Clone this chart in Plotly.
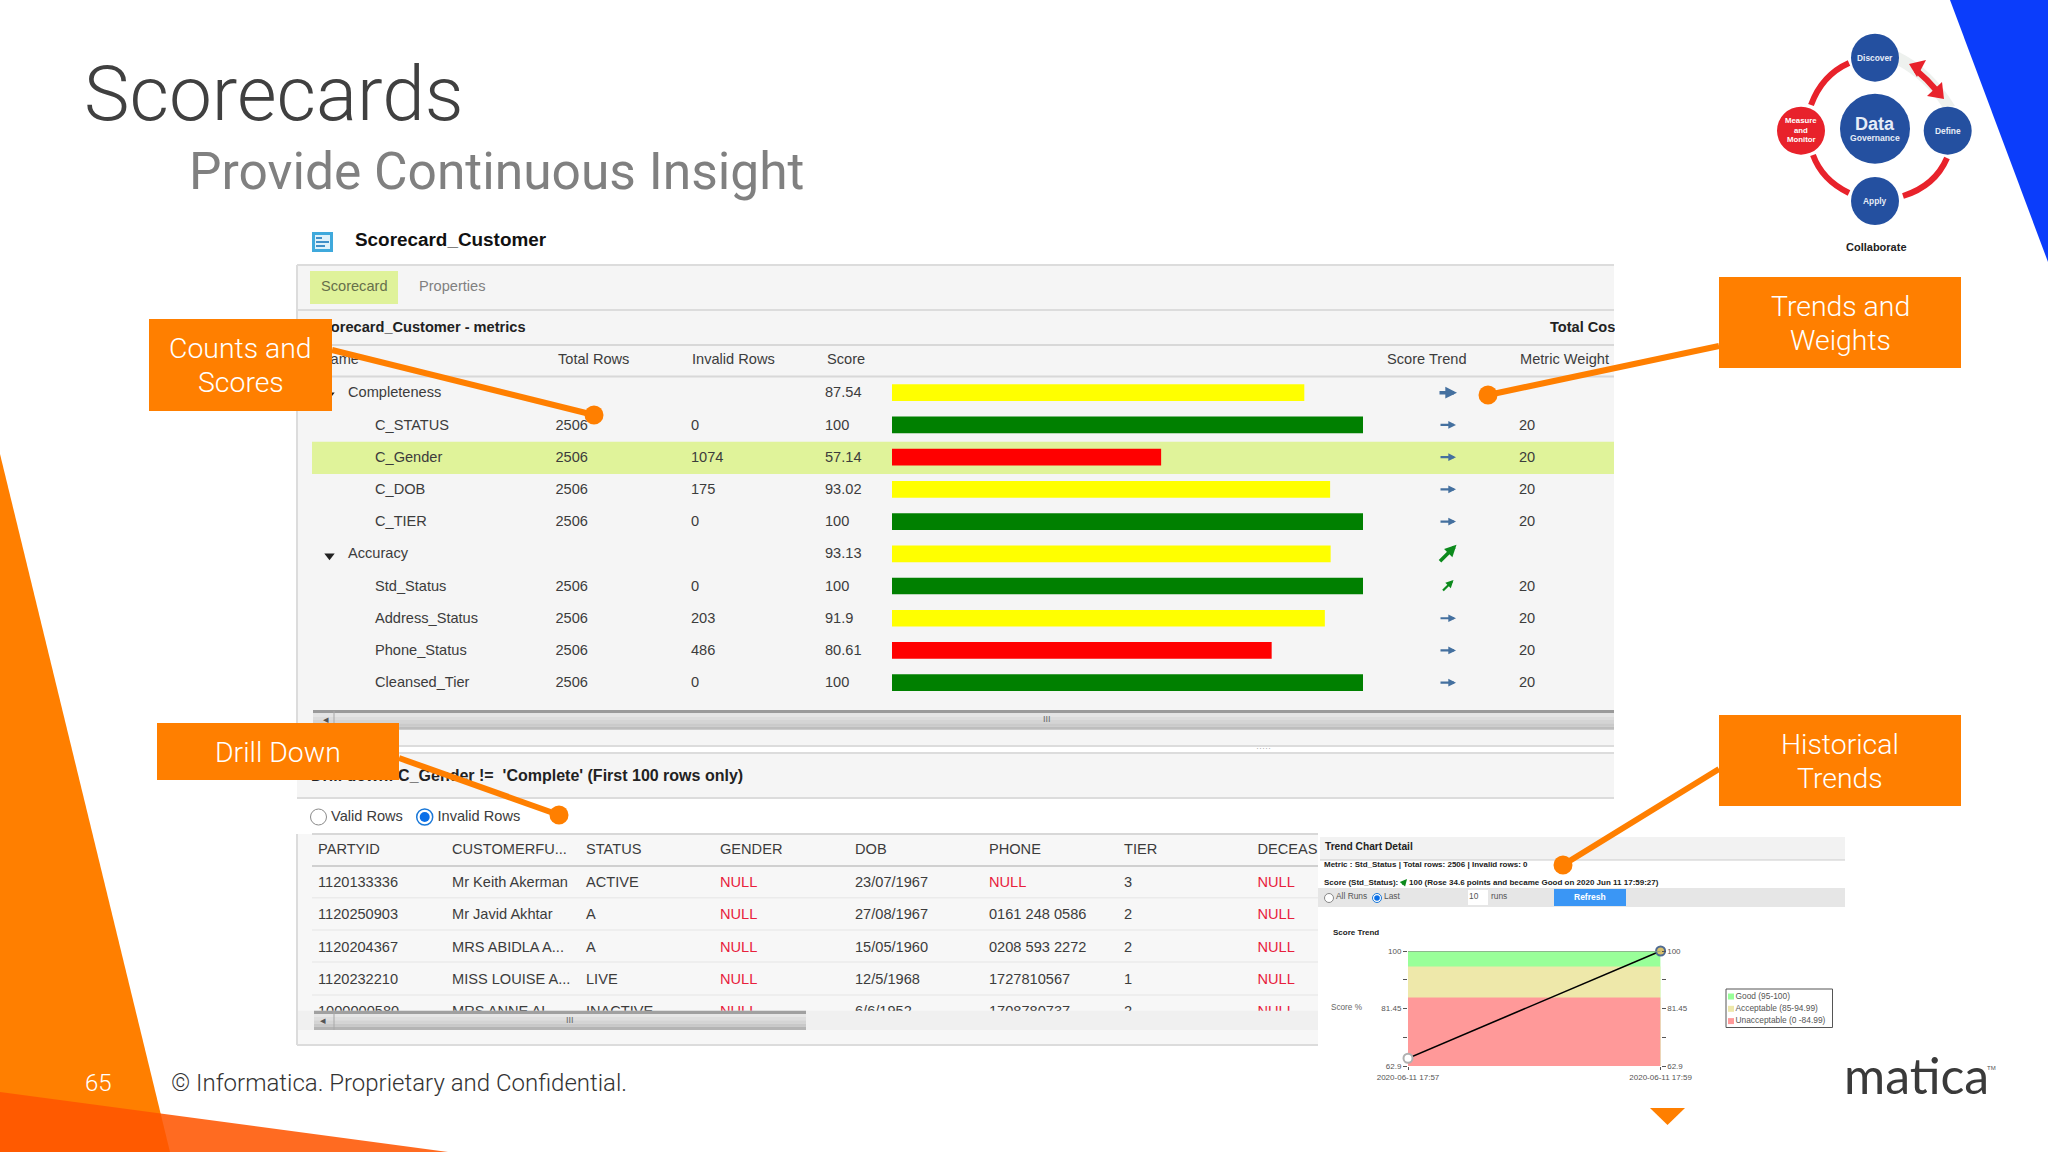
import plotly.graph_objects as go

# ---------- data ----------
metric_names = ["Completeness", "C_STATUS", "C_Gender", "C_DOB", "C_TIER", "Accuracy",
                "Std_Status", "Address_Status", "Phone_Status", "Cleansed_Tier"]
is_group = [True, False, False, False, False, True, False, False, False, False]
total_rows = ["", "2506", "2506", "2506", "2506", "", "2506", "2506", "2506", "2506"]
invalid_rows = ["", "0", "1074", "175", "0", "", "0", "203", "486", "0"]
scores = [87.54, 100, 57.14, 93.02, 100, 93.13, 100, 91.9, 80.61, 100]
score_labels = ["87.54", "100", "57.14", "93.02", "100", "93.13", "100", "91.9", "80.61", "100"]
bar_colors = ["#ffff00", "#008000", "#ff0000", "#ffff00", "#008000", "#ffff00",
              "#008000", "#ffff00", "#ff0000", "#008000"]
trends = ["flat", "flat", "flat", "flat", "flat", "up", "up", "flat", "flat", "flat"]
weights = ["", "20", "20", "20", "20", "", "20", "20", "20", "20"]

drill_headers = ["PARTYID", "CUSTOMERFU...", "STATUS", "GENDER", "DOB", "PHONE", "TIER", "DECEAS"]
partyid = ["1120133336", "1120250903", "1120204367", "1120232210", "1000000580"]
customer = ["Mr Keith Akerman", "Mr Javid Akhtar", "MRS ABIDLA A...", "MISS LOUISE A...", "MRS ANNE AL..."]
status = ["ACTIVE", "A", "A", "LIVE", "INACTIVE"]
gender = ["NULL", "NULL", "NULL", "NULL", "NULL"]
dob = ["23/07/1967", "27/08/1967", "15/05/1960", "12/5/1968", "6/6/1952"]
phone = ["NULL", "0161 248 0586", "0208 593 2272", "1727810567", "1708780737"]
tier = ["3", "2", "2", "1", "2"]
deceased = ["NULL", "NULL", "NULL", "NULL", "NULL"]

trend_times = ["2020-06-11 17:57", "2020-06-11 17:59"]
trend_scores = [65.4, 100]
band_names = ["Good (95-100)", "Acceptable (85-94.99)", "Unacceptable (0 -84.99)"]
band_tops = [100, 95, 85]
band_colors = ["#99ff99", "#eee8aa", "#ff9999"]
trend_tick_vals = [62.9, 72.17, 81.45, 90.72, 100]
trend_tick_text = ["62.9", "", "81.45", "", "100"]

W, H = 2048, 1152
ORANGE = "#ff7f00"
SANS = "Liberation Sans"
ROBOTO = "Roboto"
TXT = "#3c3c3c"

fig = go.Figure()
shapes, notes = [], []


def rect(x0, y0, x1, y1, fill, layer="below", line=None, lw=1):
    shapes.append(dict(type="rect", xref="x", yref="y", x0=x0, y0=y0, x1=x1, y1=y1, layer=layer,
                       fillcolor=fill, line=dict(color=line or fill, width=lw if line else 0)))


def seg(x0, y0, x1, y1, color, width=2, layer="below"):
    shapes.append(dict(type="line", xref="x", yref="y", x0=x0, y0=y0, x1=x1, y1=y1, layer=layer,
                       line=dict(color=color, width=width)))


def circle(cx, cy, r, fill, layer="below", line=None, lw=0):
    shapes.append(dict(type="circle", xref="x", yref="y", x0=cx - r, y0=cy - r, x1=cx + r, y1=cy + r,
                       layer=layer, fillcolor=fill, line=dict(color=line or fill, width=lw)))


def poly(d, fill, layer="below", line=None, lw=0):
    shapes.append(dict(type="path", xref="x", yref="y", path=d, layer=layer, fillcolor=fill,
                       line=dict(color=line or "rgba(0,0,0,0)", width=lw)))


def note(x, y, s, size, color=TXT, family=ROBOTO, weight=400, anchor="left"):
    notes.append(dict(xref="x", yref="y", x=x, y=y, text=s, showarrow=False, xanchor=anchor, yanchor="middle",
                      borderpad=0, borderwidth=0,
                      font=dict(size=size, color=color, family=family, weight=weight)))


def texts(xs, ys, labels, size=14.6, color=TXT, weight=400, family=SANS):
    dy = 1 if size >= 14 else 0
    fig.add_trace(go.Scatter(x=xs, y=[v + dy for v in ys], text=labels, mode="text", textposition="middle right",
                             hoverinfo="skip", showlegend=False, cliponaxis=False,
                             textfont=dict(size=size, color=color, family=family, weight=weight),
                             xaxis="x", yaxis="y"))


# ---------- slide decoration ----------
poly("M0,454 L170,1152 L0,1152 Z", ORANGE)
poly("M0,1092 L448,1152 L0,1152 Z", "rgba(255,85,0,0.87)")
poly("M1950,0 L2048,0 L2048,262 Z", "#0b3dfb")
poly("M1650,1108 L1685,1108 L1667.5,1125 Z", ORANGE)

note(84, 94, "Scorecards", 76.6, "#404040", weight=300)
note(189, 171, "Provide Continuous Insight", 51.5, "#808080", weight=400)
note(98, 1083, "65", 24, "#ffffff", weight=300, anchor="center")
note(171, 1083, "© Informatica. Proprietary and Confidential.", 24, "#333333", weight=300)

# ---------- scorecard panel ----------
rect(297, 265, 1614, 746, "#f5f5f5")
seg(297, 265, 1614, 265, "#dcdcdc", 2)
seg(297, 265, 297, 746, "#dcdcdc", 2)
seg(297, 310, 1614, 310, "#dcdcdc", 2)
seg(297, 345, 1614, 345, "#d8d8d8", 2)
seg(297, 376.5, 1614, 376.5, "#d8d8d8", 2)
seg(297, 746, 1614, 746, "#dcdcdc", 2)
rect(310, 271, 398, 304, "#dff29a")
rect(312, 441.7, 1614, 474, "#e0f39a")
rect(312, 232, 333, 252, "#3fa9dc")
rect(315, 235, 330, 249, "#dff1fa")
rect(316, 237, 322, 239, "#3f8fc8")
rect(316, 241, 329, 243, "#3f8fc8")
rect(316, 245, 325, 247, "#3f8fc8")

note(355, 239, "Scorecard_Customer", 18.9, "#111111", SANS, 700)
texts([321], [286], ["Scorecard"], color="#66704a")
texts([419], [286], ["Properties"], color="#808080")
texts([313], [327], ["Scorecard_Customer - metrics"], color="#222222", weight=700)
texts([1550], [327], ["Total Cost"], color="#222222", weight=700)
rect(1615, 312, 1718, 343, "#ffffff", layer="above")
texts([320, 558, 692, 827, 1387, 1520], [359] * 6,
      ["Name", "Total Rows", "Invalid Rows", "Score", "Score Trend", "Metric Weight"])

row_top, row_h = 392.7, 32.22
row_y = [row_top + row_h * i for i in range(len(metric_names))]
texts([348 if g else 375 for g in is_group], row_y, metric_names)
texts([555.5] * 10, row_y, total_rows)
texts([691] * 10, row_y, invalid_rows)
texts([825] * 10, row_y, score_labels)
texts([1519] * 10, row_y, weights)

fig.add_trace(go.Scatter(x=[329.5, 329.5], y=[row_y[0] + 2, row_y[5] + 2], mode="markers", hoverinfo="skip",
                         marker=dict(symbol="triangle-down", size=9, color="#222222"), showlegend=False,
                         xaxis="x", yaxis="y"))

for i, t in enumerate(trends):
    big = is_group[i]
    col = "#0c8a1c" if t == "up" else "#44709f"
    if t == "up":
        d = 9 if big else 6
        x0, y0, x1, y1 = 1447.5 - d, row_y[i] + d, 1447.5 + d, row_y[i] - d
    else:
        d = 9.5 if big else 8.5
        x0, y0, x1, y1 = 1447.5 - d, row_y[i], 1447.5 + d, row_y[i]
    notes.append(dict(xref="x", yref="y", axref="x", ayref="y", x=x1, y=y1, ax=x0, ay=y0, text="", showarrow=True,
                      arrowhead=2, arrowsize=0.65 if big else 0.7, arrowwidth=3.6 if big else 2.2, arrowcolor=col))

# main horizontal scrollbar
for k, c in enumerate(["#9a9a9a", "#e4e4e4", "#dcdcdc", "#d4d4d4", "#cacaca", "#bdbdbd"]):
    rect(313, 710 + k * 3.3, 1614, 710 + (k + 1) * 3.3, c)
seg(334, 711, 334, 730, "#a8a8a8", 1)
texts([323], [720], ["◂"], size=11, color="#555555", family="DejaVu Sans")
texts([1043], [720], ["III"], size=9, color="#666666")

# score bars: real bar chart on its own axes
fig.add_trace(go.Bar(x=scores, y=metric_names, orientation="h", marker=dict(color=bar_colors, line=dict(width=0)),
                     showlegend=False, hoverinfo="skip", xaxis="x2", yaxis="y2"))

# ---------- drill-down ----------
rect(297, 753, 1614, 798, "#f5f5f5")
seg(297, 753, 1614, 753, "#dcdcdc", 2)
seg(297, 798, 1614, 798, "#dcdcdc", 2)
texts([1256], [749], ["·····"], size=9, color="#b0b0b0")
texts([311], [776], ["Drill down: C_Gender !=  'Complete' (First 100 rows only)"], size=16, color="#222222", weight=700)

circle(318.5, 817, 8, "#ffffff", line="#8a8a8a", lw=1)
circle(424.7, 817, 8, "#ffffff", line="#1a78d8", lw=1.5)
circle(424.7, 817, 5, "#0a6fe8")
texts([331, 437.5], [816, 816], ["Valid Rows", "Invalid Rows"])

rect(297, 834, 1318, 1045, "#f7f7f7")
seg(297, 834, 297, 1045, "#dcdcdc", 2)
seg(312, 834, 1318, 834, "#d8d8d8", 2)
seg(312, 866, 1318, 866, "#d0d0d0", 2)
for yy in (897.7, 930, 962, 995):
    seg(312, yy, 1318, yy, "#ebebeb", 1.5)
seg(297, 1045, 1318, 1045, "#dcdcdc", 2)

drill_x = [318, 452, 586, 720, 855, 989, 1124, 1257.5]
texts(drill_x, [849] * 8, drill_headers)
drill_y = [882.7, 914.7, 947, 979.3, 1011.6]
for cx, col in zip(drill_x, [partyid, customer, status, gender, dob, phone, tier, deceased]):
    plain = [v if v != "NULL" else "" for v in col]
    nulls = [v if v == "NULL" else "" for v in col]
    texts([cx] * 5, drill_y, plain)
    texts([cx] * 5, drill_y, nulls, color="#e8203c")

# covers the half-row under the scrollbar
rect(298, 1010.7, 1318, 1030, "#f0f0f0", layer="above")
for k, c in enumerate(["#a0a0a0", "#e6e6e6", "#dedede", "#d4d4d4", "#c8c8c8", "#b4b4b4"]):
    rect(314, 1010.7 + k * 3.2, 806, 1010.7 + (k + 1) * 3.2, c, layer="above")
shapes.append(dict(type="line", xref="x", yref="y", x0=334, x1=334, y0=1011, y1=1030, layer="above",
                   line=dict(color="#a8a8a8", width=1)))
note(320, 1020, "◂", 11, "#555555", "DejaVu Sans")
note(566, 1020, "III", 9, "#666666", SANS)

# ---------- trend detail ----------
rect(1320, 837, 1845, 860, "#f2f2f2")
seg(1320, 860, 1845, 860, "#cccccc", 1)
rect(1318, 888, 1845, 907, "#e6e6e6")
rect(1468, 890, 1488, 905, "#ffffff")
rect(1554, 889, 1626, 906, "#3a96f5")
circle(1329, 898, 4.5, "#ffffff", line="#888888", lw=1)
circle(1377, 898, 4.5, "#ffffff", line="#1a78d8", lw=1)
circle(1377, 898, 2.8, "#0a6fe8")
texts([1325], [847], ["Trend Chart Detail"], size=10.2, color="#222222", weight=700)
texts([1324], [865], ["Metric : Std_Status | Total rows: 2506 | Invalid rows: 0"], size=8, color="#222222", weight=700)
texts([1324], [883], ["Score (Std_Status):"], size=8, color="#222222", weight=700)
texts([1409], [883], ["100 (Rose 34.6 points and became Good on 2020 Jun 11 17:59:27)"], size=8, color="#222222", weight=700)
notes.append(dict(xref="x", yref="y", axref="x", ayref="y", x=1407, y=879, ax=1401, ay=886, text="", showarrow=True,
                  arrowhead=2, arrowsize=1, arrowwidth=1.4, arrowcolor="#0c8a1c"))
texts([1336, 1384, 1469, 1491], [897] * 4, ["All Runs", "Last", "10", "runs"], size=8.4, color="#555555")
note(1590, 897, "Refresh", 8.5, "#ffffff", SANS, 700, "center")
texts([1333], [933], ["Score Trend"], size=8, color="#222222", weight=700)
texts([1331], [1008], ["Score %"], size=8.2, color="#666666")

x_band = [trend_times[0], trend_times[1]]
for name, top, col in zip(band_names, band_tops, band_colors):
    fig.add_trace(go.Scatter(x=x_band, y=[top, top], mode="lines", line=dict(width=0), fill="tozeroy",
                             fillcolor=col, name=name, showlegend=False, hoverinfo="skip",
                             xaxis="x3", yaxis="y3"))
shapes.append(dict(type="line", xref="x3", yref="y3", x0=trend_times[0], x1=trend_times[1], y0=100, y1=100,
                   layer="above", line=dict(color="#8aa08a", width=1.5)))
fig.add_trace(go.Scatter(x=trend_times, y=trend_scores, mode="lines", line=dict(color="#000000", width=1.6),
                         showlegend=False, hoverinfo="skip", cliponaxis=False, xaxis="x3", yaxis="y3"))
fig.add_trace(go.Scatter(x=trend_times, y=trend_scores, mode="markers", showlegend=False, hoverinfo="skip",
                         cliponaxis=False,
                         marker=dict(size=9, color=["#ffffff", "#d9c06a"], line=dict(color=["#b0b0b0", "#4f6a92"], width=2)),
                         xaxis="x3", yaxis="y3"))
fig.add_trace(go.Scatter(x=trend_times, y=trend_scores, mode="lines", line=dict(width=0), opacity=0,
                         showlegend=False, hoverinfo="skip", xaxis="x3", yaxis="y4"))

rect(1726, 989, 1832.5, 1027.5, "#ffffff", line="#555555", lw=1)
for i, (name, col) in enumerate(zip(band_names, band_colors)):
    ly = 996.5 + i * 12.3
    rect(1728, ly - 3, 1734, ly + 3, col)
    texts([1735.5], [ly], [name], size=8.4, color="#555555")

# ---------- callouts ----------
callouts = [
    (149, 319, 332, 411, ["Counts and", "Scores"], [348, 382], (332, 350), (594, 415)),
    (1719, 277, 1961, 368, ["Trends and", "Weights"], [306, 340], (1719, 346), (1488, 395)),
    (157, 723, 399, 780, ["Drill Down"], [752], (399, 758), (559, 815)),
    (1719, 715, 1961, 806, ["Historical", "Trends"], [744, 778], (1719, 769), (1563, 865)),
]
for x0, y0, x1, y1, lines, ys, a, b in callouts:
    seg(a[0], a[1], b[0], b[1], ORANGE, 6, layer="above")
    circle(b[0], b[1], 9.5, ORANGE, layer="above")
    rect(x0, y0, x1, y1, ORANGE, layer="above")
    for s, yy in zip(lines, ys):
        note((x0 + x1) / 2, yy, s, 28.4, "#ffffff", ROBOTO, 300, "center")

# ---------- data governance wheel ----------
RED = "#e8222b"
BLUE = "#2450a0"
poly("M1899,52 Q1932,68 1955,106 L1943,108 Q1925,80 1897,65 Z", "#eef1ee")
for d in ("M1849,63 Q1822,75 1811,105", "M1813,155 Q1822,180 1849,193", "M1947,158 Q1935,186 1903,196"):
    shapes.append(dict(type="path", xref="x", yref="y", path=d, layer="below",
                       line=dict(color=RED, width=6)))
shapes.append(dict(type="path", xref="x", yref="y", path="M1916,70 Q1928,80 1937,91", layer="below",
                   line=dict(color=RED, width=6)))
poly("M1909,64 L1926,60 L1917,77 Z", RED)
poly("M1944,99 L1927,96 L1942,82 Z", RED)
circle(1875, 57.7, 24, BLUE)
circle(1947.7, 130.7, 24, BLUE)
circle(1875, 201, 24, BLUE)
circle(1801, 130.7, 24, RED)
circle(1875, 128.7, 35, BLUE)
note(1875, 58, "Discover", 8.4, "#e6ecf7", SANS, 700, "center")
note(1947.7, 130.7, "Define", 8.4, "#e6ecf7", SANS, 700, "center")
note(1875, 201, "Apply", 8.4, "#e6ecf7", SANS, 700, "center")
note(1801, 120, "Measure", 7.8, "#ffffff", SANS, 700, "center")
note(1801, 130, "and", 7.8, "#ffffff", SANS, 700, "center")
note(1801, 139, "Monitor", 7.8, "#ffffff", SANS, 700, "center")
note(1875, 124, "Data", 18, "#e6ecf7", SANS, 700, "center")
note(1875, 138, "Governance", 8.6, "#e6ecf7", SANS, 700, "center")
note(1876, 247, "Collaborate", 11, "#222222", SANS, 700, "center")

# logo fragment
note(1844, 1075, "matica", 50, "#3a3a3a", "Lato", 400)
note(1987, 1068, "TM", 6, "#555555", SANS, 400)

# ---------- axes ----------
hidden = dict(visible=False, fixedrange=True, automargin=False)
tick_font = dict(size=8, color="#555555", family=SANS)
fig.update_layout(
    width=W, height=H, margin=dict(l=0, r=0, t=0, b=0, pad=0), paper_bgcolor="#ffffff", plot_bgcolor="rgba(0,0,0,0)",
    showlegend=False, shapes=shapes, annotations=notes, bargap=0.482,
    xaxis=dict(range=[0, W], domain=[0, 1], **hidden),
    yaxis=dict(range=[H, 0], domain=[0, 1], **hidden),
    xaxis2=dict(range=[0, 100], domain=[892 / W, 1363 / W], anchor="y2", **hidden),
    yaxis2=dict(range=[9.5, -0.5], type="category", categoryorder="array", categoryarray=metric_names,
                domain=[1 - (row_top - row_h / 2 + row_h * 10) / H, 1 - (row_top - row_h / 2) / H],
                anchor="x2", **hidden),
    xaxis3=dict(range=[trend_times[0], trend_times[1]], type="date", domain=[1408 / W, 1660.6 / W], anchor="y3",
                tickvals=trend_times, ticktext=trend_times, ticks="outside", ticklen=3,
                tickcolor="#555555", tickfont=tick_font, showgrid=False, automargin=False,
                showline=False, zeroline=False, fixedrange=True),
    yaxis3=dict(range=[62.9, 100], domain=[1 - 1066 / H, 1 - 951 / H], anchor="x3", side="left", automargin=False,
                tickvals=trend_tick_vals, ticktext=trend_tick_text, ticks="outside", ticklen=4, tickcolor="#555555",
                tickfont=tick_font, showgrid=False, zeroline=False, fixedrange=True),
    yaxis4=dict(range=[62.9, 100], domain=[1 - 1066 / H, 1 - 951 / H], anchor="x3", overlaying="y3", side="right",
                automargin=False, tickvals=trend_tick_vals, ticktext=trend_tick_text, ticks="outside", ticklen=4,
                tickcolor="#555555", tickfont=tick_font, showgrid=False, zeroline=False, fixedrange=True),
)

fig.write_html("out.html", config=dict(displayModeBar=False),
               post_script="document.body.style.margin='0';document.body.style.overflow='hidden';")
